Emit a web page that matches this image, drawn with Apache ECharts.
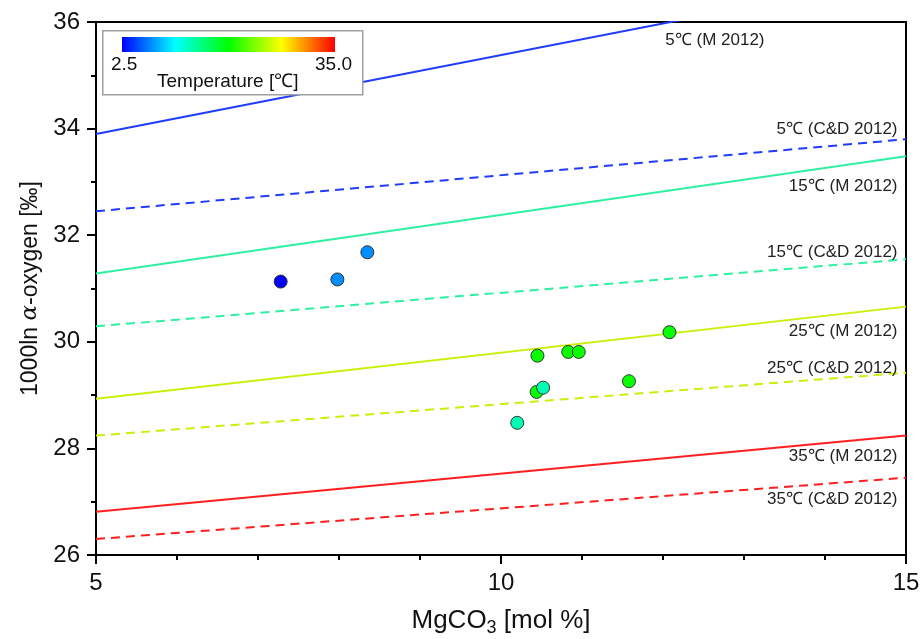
<!DOCTYPE html>
<html><head><meta charset="utf-8">
<script src="https://cdn.jsdelivr.net/npm/echarts@6/dist/echarts.min.js"></script>
<style>html,body{margin:0;padding:0;background:#fff}#c{width:920px;height:639px}</style>
</head><body><div id="c"></div>
<script>
// ---- data ----
const lineNames = ['5℃ (M 2012)','5℃ (C&D 2012)','15℃ (M 2012)','15℃ (C&D 2012)','25℃ (M 2012)','25℃ (C&D 2012)','35℃ (M 2012)','35℃ (C&D 2012)'];
const lineX = [5, 15];
const lineYAt5  = [33.90, 32.45, 31.28, 30.29, 28.93, 28.24, 26.81, 26.30];
const lineYAt15 = [36.86, 33.80, 33.48, 31.55, 30.66, 29.42, 28.24, 27.45];
const sampleMg = [7.28, 7.98, 8.35, 10.45, 10.83, 10.96, 12.08, 10.44, 10.52, 10.20, 11.58];
const sampleO  = [31.13, 31.17, 31.68, 29.74, 29.81, 29.81, 30.18, 29.06, 29.14, 28.48, 29.26];
const sampleT  = [2.5, 7, 7, 19, 19, 19, 19, 19, 13, 13, 19];
const tempRange = [2.5, 35.0];
const tempLabels = ['2.5', '35.0'];
const xTicks = [5, 10, 15];
const yTicks = [26, 28, 30, 32, 34, 36];

// ---- styles ----
const rainbow = ['#0000ff', '#00ffff', '#00ff00', '#ffff00', '#ff0000'];
const lineColors = ['#1f3cff','#1f3cff','#2ef0a0','#2ef0a0','#c6f20a','#c6f20a','#ff1f1f','#ff1f1f'];
const lineDashed = [false,true,false,true,false,true,false,true];
const labelOffsets = [[-133,18],[0,-10],[0,30],[0,-7],[0,25],[0,-4],[0,21],[0,22]];
const FONT = 'Liberation Sans, Arial, sans-serif';

const chart = echarts.init(document.getElementById('c'), null, {renderer: 'canvas'});

const lineSeries = lineNames.map((name, i) => ({
  type: 'line',
  name: name,
  data: [[lineX[0], lineYAt5[i]], [lineX[1], lineYAt15[i]]],
  symbol: 'none',
  silent: true,
  clip: true,
  lineStyle: {color: lineColors[i], width: 2, type: lineDashed[i] ? [9, 6] : 'solid'},
  z: 2,
  markPoint: {
    symbol: 'circle',
    symbolSize: 1,
    itemStyle: {color: 'rgba(0,0,0,0)'},
    silent: true,
    data: [{
      coord: [lineX[1], Math.min(lineYAt15[i], yTicks[yTicks.length - 1])],
      label: {
        show: true, formatter: name, position: 'left', distance: 8,
        offset: labelOffsets[i], color: '#222', fontSize: 17, fontFamily: FONT
      }
    }]
  }
}));

const scatterData = sampleMg.map((x, i) => [x, sampleO[i], sampleT[i]]);

chart.setOption({
  animation: false,
  backgroundColor: '#fff',
  grid: {left: 96, right: 14, top: 22, bottom: 84, show: true, borderColor: '#000', borderWidth: 2,
         containLabel: false, outerBoundsMode: 'none'},
  xAxis: {
    type: 'value', min: xTicks[0], max: xTicks[xTicks.length - 1], interval: 5,
    name: '{a|MgCO}{s|3}{a| [mol %]}', nameLocation: 'middle', nameGap: 50,
    nameTextStyle: {rich: {
      a: {fontSize: 26, fontFamily: FONT, color: '#111'},
      s: {fontSize: 18, fontFamily: FONT, color: '#111', padding: [14, 0, 0, 0]}
    }},
    axisLine: {show: true, lineStyle: {color: '#000', width: 2}},
    axisTick: {show: true, inside: false, length: 9, lineStyle: {color: '#000', width: 2}},
    minorTick: {show: true, splitNumber: 5, length: 5, lineStyle: {color: '#000', width: 2}},
    splitLine: {show: false},
    axisLabel: {fontSize: 24, fontFamily: FONT, color: '#111', margin: 16}
  },
  yAxis: {
    type: 'value', min: yTicks[0], max: yTicks[yTicks.length - 1], interval: 2,
    name: '{a|1000ln }{i|α}{a|-oxygen [‰]}', nameLocation: 'middle', nameGap: 54,
    nameTextStyle: {rich: {
      a: {fontSize: 23, fontFamily: FONT, color: '#111'},
      i: {fontSize: 23, fontFamily: 'DejaVu Serif, serif', fontStyle: 'italic', color: '#111'}
    }},
    axisLine: {show: true, lineStyle: {color: '#000', width: 2}},
    axisTick: {show: true, inside: false, length: 9, lineStyle: {color: '#000', width: 2}},
    minorTick: {show: true, splitNumber: 2, length: 5, lineStyle: {color: '#000', width: 2}},
    splitLine: {show: false},
    axisLabel: {fontSize: 24, fontFamily: FONT, color: '#111', margin: 16}
  },
  visualMap: {
    type: 'continuous', show: false, min: tempRange[0], max: tempRange[1],
    dimension: 2, seriesIndex: lineNames.length, inRange: {color: rainbow}
  },
  series: lineSeries.concat([{
    type: 'scatter',
    name: 'samples',
    data: scatterData,
    symbol: 'circle',
    symbolSize: 13,
    itemStyle: {borderColor: '#333', borderWidth: 1, opacity: 1},
    z: 5
  }]),
  graphic: [
    {type: 'rect', left: 102, top: 30, shape: {width: 260, height: 64}, style: {fill: '#fff', stroke: '#a0a0a0', lineWidth: 1.5}, z: 100},
    {type: 'rect', left: 122, top: 37, shape: {width: 213, height: 15},
     style: {fill: new echarts.graphic.LinearGradient(0, 0, 1, 0, rainbow.map((c, k) => ({offset: k / (rainbow.length - 1), color: c})))}, z: 101},
    {type: 'text', left: 111, top: 55, style: {text: tempLabels[0], fontSize: 19, fontFamily: FONT, fill: '#111'}, z: 101},
    {type: 'text', right: 920 - 352, top: 55, style: {text: tempLabels[1], fontSize: 19, fontFamily: FONT, fill: '#111', textAlign: 'right'}, z: 101},
    {type: 'text', left: 157, top: 72, style: {text: 'Temperature [℃]', fontSize: 19, fontFamily: FONT, fill: '#111'}, z: 101}
  ]
});
</script>
</body></html>
